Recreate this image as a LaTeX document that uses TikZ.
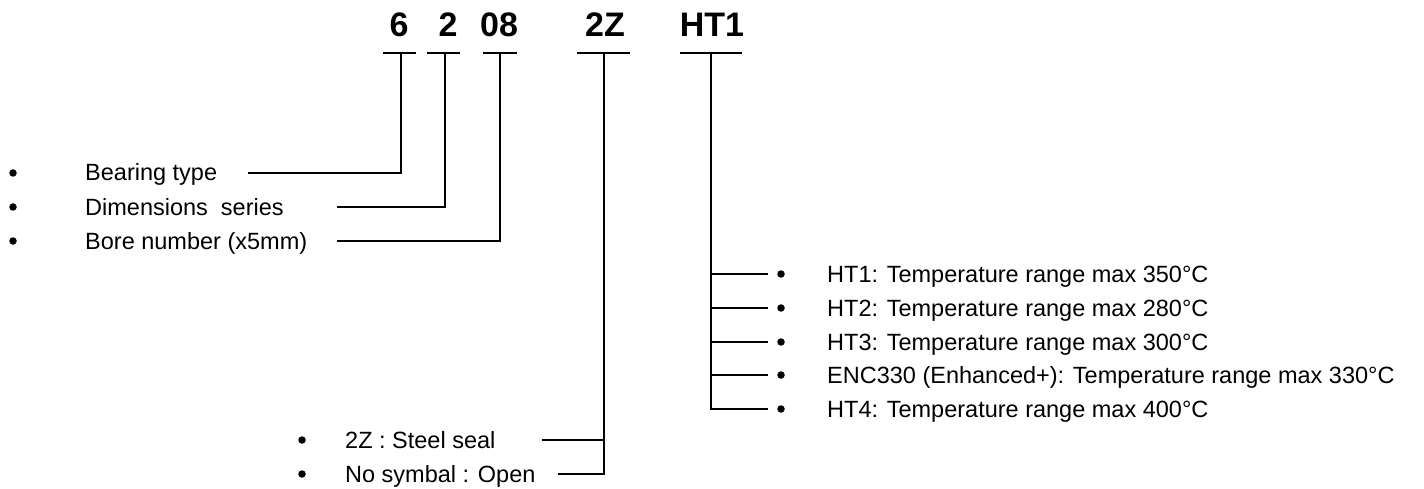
\documentclass[tikz,border=0pt]{standalone}
\usepackage{fontspec}
\setmainfont{Liberation Sans}
\tikzset{
  head/.style={font=\fontsize{34}{40}\selectfont\bfseries, anchor=base, inner sep=0pt},
  item/.style={font=\fontsize{23.5}{28}\selectfont, anchor=base west, inner sep=0pt},
  dot/.style={circle, fill=black, inner sep=0pt, minimum size=7.5pt},
  conn/.style={line width=1.5pt, line join=miter},
}
\begin{document}
\begin{tikzpicture}[x=1pt,y=-1pt]
\useasboundingbox (0,0) rectangle (1424,489);
% headings
\node[head] (h6)  at (399,37) {6};
\node[head] (h2)  at (448,37) {2};
\node[head] (h08) at (499,37) {08};
\node[head] (h2z) at (605,37) {2Z};
\node[head] (hht) at (712,37) {HT1};
% bars
\coordinate (b6)  at (401,53);
\coordinate (b2)  at (445,53);
\coordinate (b08) at (500,53);
\coordinate (b2z) at (604,53);
\coordinate (bht) at (711,53);
\draw[conn] (383,53) -- (416,53);
\draw[conn] (427,53) -- (460,53);
\draw[conn] (483,53) -- (517,53);
\draw[conn] (577,53) -- (630,53);
\draw[conn] (680,53) -- (742,53);
% left items
\node[dot] (d1) at (13,173) {};
\node[dot] (d2) at (13,207) {};
\node[dot] (d3) at (13,241) {};
\node[item] (t1) at (85,181) {Bearing type};
\node[item] (t2) at (85,215) {Dimensions\ \ series};
\node[item] (t3) at (85,249) {Bore number (x5mm)};
\coordinate (s1) at (248,173);
\coordinate (s2) at (337,207);
\coordinate (s3) at (337,241);
\draw[conn] (s1) -| (b6);
\draw[conn] (s2) -| (b2);
\draw[conn] (s3) -| (b08);
% 2Z items
\node[dot] (d4) at (302,440) {};
\node[dot] (d5) at (302,474) {};
\node[item] (t4) at (345,448) {2Z : Steel seal};
\node[item] (t5) at (345,482) {No symbal : Open};
\coordinate (s4) at (542,440);
\coordinate (s5) at (558,474);
\draw[conn] (b2z) |- (s5);
\draw[conn] (s4) -- (s4 -| b2z);
% HT items
\coordinate (r1) at (768,274);
\coordinate (r2) at (768,308);
\coordinate (r3) at (768,342);
\coordinate (r4) at (768,375);
\coordinate (r5) at (768,409);
\draw[conn] (bht) |- (r5);
\draw[conn] (r1) -- (r1 -| bht);
\draw[conn] (r2) -- (r2 -| bht);
\draw[conn] (r3) -- (r3 -| bht);
\draw[conn] (r4) -- (r4 -| bht);
\node[dot] (e1) at (781,274) {};
\node[dot] (e2) at (781,308) {};
\node[dot] (e3) at (781,342) {};
\node[dot] (e4) at (781,375) {};
\node[dot] (e5) at (781,409) {};
\node[item] (u1) at (827,282) {HT1: Temperature range max 350°C};
\node[item] (u2) at (827,316) {HT2: Temperature range max 280°C};
\node[item] (u3) at (827,350) {HT3: Temperature range max 300°C};
\node[item] (u4) at (827,383) {ENC330 (Enhanced+): Temperature range max 330°C};
\node[item] (u5) at (827,417) {HT4: Temperature range max 400°C};
\end{tikzpicture}
\end{document}
